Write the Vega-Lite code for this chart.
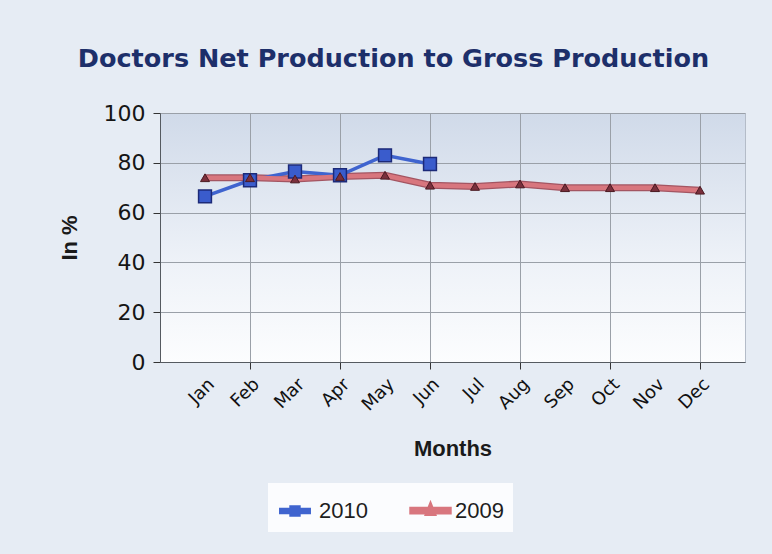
{
  "$schema": "https://vega.github.io/schema/vega-lite/v6.json",
  "width": 585,
  "height": 249,
  "autosize": {"type": "none"},
  "padding": {"left": 160, "top": 113, "right": 27, "bottom": 192},
  "background": "#e6ecf4",
  "title": {
    "text": "Doctors Net Production to Gross Production",
    "font": "DejaVu Sans",
    "fontSize": 25.5,
    "fontWeight": "bold",
    "color": "#1d2f6a",
    "anchor": "middle",
    "dx": -59,
    "offset": 30
  },
  "data": {
    "values": [
      {"month": "Jan", "series": "2010", "value": 66.5},
      {"month": "Feb", "series": "2010", "value": 73},
      {"month": "Mar", "series": "2010", "value": 76.5},
      {"month": "Apr", "series": "2010", "value": 75},
      {"month": "May", "series": "2010", "value": 83},
      {"month": "Jun", "series": "2010", "value": 79.5},
      {"month": "Jan", "series": "2009", "value": 74},
      {"month": "Feb", "series": "2009", "value": 74},
      {"month": "Mar", "series": "2009", "value": 73.5},
      {"month": "Apr", "series": "2009", "value": 74.5},
      {"month": "May", "series": "2009", "value": 75},
      {"month": "Jun", "series": "2009", "value": 71},
      {"month": "Jul", "series": "2009", "value": 70.5},
      {"month": "Aug", "series": "2009", "value": 71.5},
      {"month": "Sep", "series": "2009", "value": 70},
      {"month": "Oct", "series": "2009", "value": 70},
      {"month": "Nov", "series": "2009", "value": 70},
      {"month": "Dec", "series": "2009", "value": 69}
    ]
  },
  "encoding": {
    "x": {
      "field": "month",
      "type": "ordinal",
      "sort": ["Jan", "Feb", "Mar", "Apr", "May", "Jun", "Jul", "Aug", "Sep", "Oct", "Nov", "Dec"],
      "scale": {"type": "point", "padding": 1},
      "axis": {
        "title": "Months",
        "titleFont": "Liberation Sans",
        "titleFontSize": 22,
        "titleFontWeight": "bold",
        "titleColor": "#1a1a1a",
        "titlePadding": 24,
        "labelAngle": -45,
        "labelFont": "DejaVu Sans",
        "labelFontSize": 18,
        "labelColor": "#111111",
        "labelPadding": 6,
        "domainColor": "#555a60",
        "tickColor": "#333333",
        "tickSize": 7,
        "tickOpacity": {"condition": {"test": "indexof(['Feb','Apr','Jun','Aug','Oct','Dec'], datum.value) >= 0", "value": 1}, "value": 0},
        "grid": true,
        "gridColor": "#9aa0a8",
        "gridOpacity": {"condition": {"test": "indexof(['Feb','Apr','Jun','Aug','Oct','Dec'], datum.value) >= 0", "value": 1}, "value": 0}
      }
    },
    "y": {
      "field": "value",
      "type": "quantitative",
      "scale": {"domain": [0, 100], "nice": false},
      "axis": {
        "values": [0, 20, 40, 60, 80, 100],
        "title": "In %",
        "titleFont": "Liberation Sans",
        "titleFontSize": 22,
        "titleFontWeight": "bold",
        "titleColor": "#1a1a1a",
        "titlePadding": 22,
        "labelFont": "DejaVu Sans",
        "labelFontSize": 22,
        "labelColor": "#151515",
        "labelPadding": 8,
        "domainColor": "#555a60",
        "tickColor": "#333333",
        "tickSize": 7,
        "grid": true,
        "gridColor": "#9aa0a8"
      }
    }
  },
  "layer": [
    {
      "transform": [{"filter": "datum.series === '2009'"}],
      "mark": {"type": "line", "color": "#a35562", "strokeWidth": 7},
      "encoding": {}
    },
    {
      "mark": {"type": "line"},
      "encoding": {
        "color": {
          "field": "series",
          "type": "nominal",
          "scale": {"domain": ["2010", "2009"], "range": ["#3f64cf", "#d8767e"]},
          "legend": {
            "title": null,
            "orient": "none",
            "direction": "horizontal",
            "legendX": 108,
            "legendY": 370,
            "fillColor": "#fbfcfe",
            "padding": 9,
            "labelFont": "Liberation Sans",
            "labelFontSize": 22,
            "labelColor": "#1e1e1e",
            "labelOffset": 6,
            "columnPadding": 34,
            "symbolSize": 1000,
            "encode": {
              "symbols": {
                "update": {
                  "shape": {"signal": "datum.value === '2010' ? 'M-0.9,-0.09H0.9V0.09H-0.9Z M-0.25,-0.25H0.25V0.25H-0.25Z' : 'M-1.2,-0.1H1.2V0.1H-1.2Z M0,-0.3L0.2,0.2H-0.2Z'"},
                  "fill": {"signal": "datum.value === '2010' ? '#3a5cc8' : '#c9646c'"},
                  "strokeWidth": {"value": 0}
                }
              }
            }
          }
        },
        "strokeWidth": {
          "field": "series",
          "type": "nominal",
          "scale": {"domain": ["2010", "2009"], "range": [3.5, 4.5]},
          "legend": null
        }
      }
    },
    {
      "transform": [{"filter": "datum.series === '2010'"}],
      "mark": {"type": "point", "shape": "square", "filled": true, "opacity": 1, "size": 165, "color": "#3a5ccc", "stroke": "#1c2a78", "strokeWidth": 1.5}
    },
    {
      "transform": [{"filter": "datum.series === '2009'"}],
      "mark": {"type": "point", "shape": "triangle-up", "filled": true, "opacity": 1, "size": 80, "color": "#7a2f3c", "stroke": "#4a1a22", "strokeWidth": 1}
    }
  ],
  "config": {
    "view": {
      "stroke": "#b4bcc8",
      "fill": {
        "gradient": "linear",
        "x1": 0, "y1": 0, "x2": 0, "y2": 1,
        "stops": [
          {"offset": 0, "color": "#d0dae9"},
          {"offset": 0.6, "color": "#eef2f8"},
          {"offset": 1, "color": "#fcfdfe"}
        ]
      }
    }
  }
}
